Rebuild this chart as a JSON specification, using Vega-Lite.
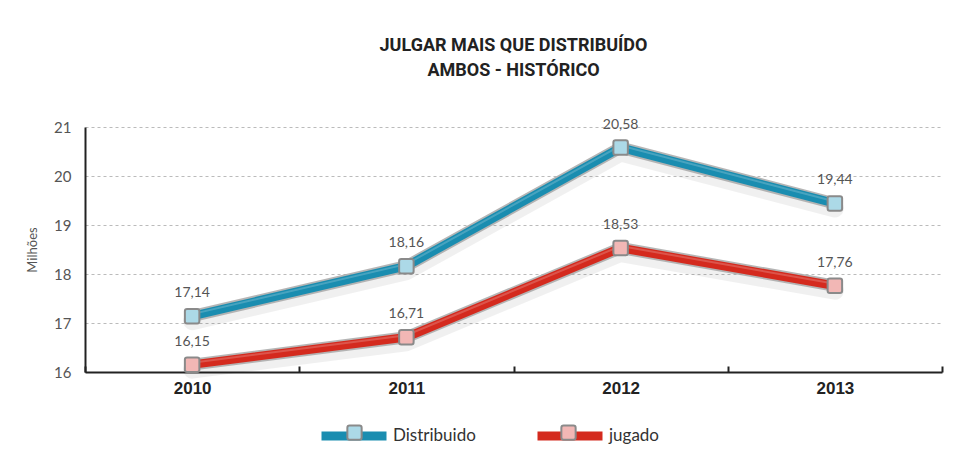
{
  "$schema": "https://vega.github.io/schema/vega-lite/v6.json",
  "width": 857,
  "height": 245,
  "autosize": {"type": "none"},
  "padding": {"left": 85, "top": 127, "right": 25, "bottom": 87},
  "background": "white",
  "title": {
    "text": ["JULGAR MAIS QUE DISTRIBUÍDO", "AMBOS - HISTÓRICO"],
    "font": "Roboto",
    "fontSize": 18,
    "fontWeight": "bold",
    "color": "#222222",
    "lineHeight": 25,
    "anchor": "middle",
    "offset": 38
  },
  "data": {
    "values": [
      {"ano": "2010", "serie": "Distribuido", "valor": 17.14},
      {"ano": "2011", "serie": "Distribuido", "valor": 18.16},
      {"ano": "2012", "serie": "Distribuido", "valor": 20.58},
      {"ano": "2013", "serie": "Distribuido", "valor": 19.44},
      {"ano": "2010", "serie": "jugado", "valor": 16.15},
      {"ano": "2011", "serie": "jugado", "valor": 16.71},
      {"ano": "2012", "serie": "jugado", "valor": 18.53},
      {"ano": "2013", "serie": "jugado", "valor": 17.76}
    ]
  },
  "encoding": {
    "x": {
      "field": "ano",
      "type": "ordinal",
      "scale": {"type": "band", "paddingInner": 0, "paddingOuter": 0},
      "axis": {
        "title": null,
        "labelAngle": 0,
        "labelFont": "Liberation Sans",
        "labelFontWeight": "bold",
        "labelFontSize": 17,
        "labelColor": "#222222",
        "labelPadding": 14,
        "domainColor": "#222222",
        "domainWidth": 2,
        "tickBand": "extent",
        "tickSize": -6,
        "tickWidth": 2,
        "tickColor": "#222222",
        "grid": false
      }
    },
    "y": {
      "field": "valor",
      "type": "quantitative",
      "scale": {"domain": [16, 21], "nice": false, "zero": false},
      "axis": {
        "title": "Milhões",
        "titleFont": "Lato",
        "titleFontWeight": "normal",
        "titleFontSize": 13,
        "titleColor": "#555555",
        "titlePadding": 14,
        "values": [16, 17, 18, 19, 20, 21],
        "labelFont": "Lato",
        "labelFontSize": 15,
        "labelColor": "#555555",
        "labelPadding": 14,
        "ticks": false,
        "domainColor": "#222222",
        "domainWidth": 2,
        "grid": true,
        "gridColor": "#bbbbbb",
        "gridDash": [3, 3],
        "gridWidth": 1
      }
    }
  },
  "layer": [
    {
      "mark": {"type": "line", "strokeWidth": 18, "color": "#000000", "opacity": 0.06, "yOffset": 5, "strokeCap": "round", "strokeJoin": "round"},
      "encoding": {"detail": {"field": "serie"}}
    },
    {
      "mark": {"type": "line", "strokeWidth": 12, "color": "#a8a8a8", "opacity": 0.85, "strokeCap": "round", "strokeJoin": "round"},
      "encoding": {"detail": {"field": "serie"}}
    },
    {
      "mark": {"type": "line", "strokeWidth": 8.5, "strokeCap": "round", "strokeJoin": "round"},
      "encoding": {
        "color": {
          "field": "serie",
          "type": "nominal",
          "scale": {"range": ["#1a8db0", "#d42a1e"]},
          "legend": {
            "title": null,
            "orient": "none",
            "direction": "horizontal",
            "legendX": 232,
            "legendY": 272,
            "symbolType": "stroke",
            "symbolSize": 4225,
            "symbolStrokeWidth": 9,
            "labelFont": "Lato",
            "labelFontSize": 17,
            "labelColor": "#333333",
            "labelOffset": 2,
            "columnPadding": 43,
            "padding": 0,
            "zindex": 1
          }
        }
      }
    },
    {
      "mark": {"type": "line", "strokeWidth": 2, "color": "#ffffff", "opacity": 0.2, "yOffset": -2},
      "encoding": {"detail": {"field": "serie"}}
    },
    {
      "mark": {
        "type": "point",
        "filled": true,
        "opacity": 1,
        "shape": "M -0.7 -1 L 0.7 -1 Q 1 -1 1 -0.7 L 1 0.7 Q 1 1 0.7 1 L -0.7 1 Q -1 1 -1 0.7 L -1 -0.7 Q -1 -1 -0.7 -1 Z",
        "size": 210,
        "stroke": "#8a8a8a",
        "strokeWidth": 2
      },
      "encoding": {
        "fill": {
          "field": "serie",
          "type": "nominal",
          "scale": {"domain": ["Distribuido", "jugado"], "range": ["#acd9e7", "#f2b7b5"]},
          "legend": {
            "title": null,
            "orient": "none",
            "direction": "horizontal",
            "legendX": 236,
            "legendY": 272,
            "symbolType": "M -0.15 -0.22 L 0.15 -0.22 Q 0.22 -0.22 0.22 -0.15 L 0.22 0.15 Q 0.22 0.22 0.15 0.22 L -0.15 0.22 Q -0.22 0.22 -0.22 0.15 L -0.22 -0.15 Q -0.22 -0.22 -0.15 -0.22 Z",
            "symbolSize": 4225,
            "symbolStrokeColor": "#8a8a8a",
            "symbolStrokeWidth": 2,
            "symbolOpacity": 1,
            "labelExpr": "''",
            "labelFontSize": 17,
            "labelOffset": 2,
            "columnPadding": 145,
            "padding": 0,
            "zindex": 2
          }
        }
      }
    },
    {
      "mark": {"type": "text", "dy": -23, "baseline": "middle", "font": "Lato", "fontSize": 14, "color": "#555555"},
      "encoding": {
        "text": {"field": "valor", "type": "quantitative", "format": ".2f"}
      }
    }
  ],
  "config": {
    "view": {"stroke": null},
    "locale": {
      "number": {"decimal": ",", "thousands": ".", "grouping": [3], "currency": ["", " €"]}
    }
  }
}
